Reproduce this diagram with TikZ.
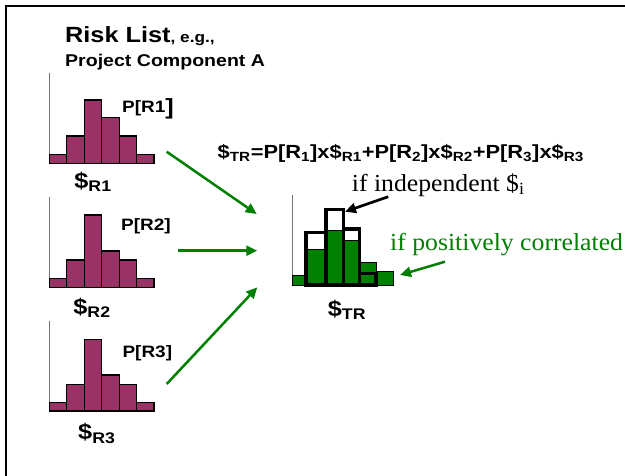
\documentclass[tikz,border=0pt]{standalone}
\usepackage{fontspec}
\setmainfont{Liberation Serif}
\newfontfamily\labelsans[FakeStretch=1.15]{Liberation Sans}
\newfontfamily\noteserif[FakeStretch=1.05]{Liberation Serif}
\usetikzlibrary{arrows.meta}
\definecolor{barmaroon}{HTML}{993366}
\definecolor{sumgreen}{HTML}{008000}
\newcommand{\fsz}[1]{\fontsize{#1}{#1}\selectfont}
\newcommand{\lo}[1]{\textsubscript{#1}}

% one risk histogram: left x, baseline y, axis top y, bar heights
\newcommand{\riskhist}[4]{%
  \draw[axisline] (#1,#3) -- (#1,#2);
  \foreach \h [count=\i from 0] in {#4}
    \draw[riskbar] ({#1+\i*17.45},#2) rectangle ++(17.45,-\h);
}

\tikzset{
  lbl/.style={inner sep=0pt, font=\labelsans\bfseries},
  note/.style={inner sep=0pt, font=\noteserif\fsz{24.5}},
  riskbar/.style={draw=black, line width=1.2pt, fill=barmaroon},
  sumbar/.style={draw=black, line width=0.7pt, fill=sumgreen},
  indepbox/.style={draw=black, line width=3.4pt},
  axisline/.style={draw=black!55, line width=0.9pt},
  flow/.style={draw=sumgreen, line width=2.5pt, -{Triangle[length=11pt,width=10pt]}},
  pointer/.style={draw=black, line width=2.7pt, -{Triangle[length=11pt,width=10pt]}},
}

\begin{document}
\begin{tikzpicture}[x=1pt,y=-1pt]
\useasboundingbox (0,0) rectangle (625,476);
\fill[white] (0,0) rectangle (625,476);

% slide frame (top and left edges)
\draw[line width=2.5pt] (6,476) -- (6,6) -- (625,6);

% heading
\node[lbl, anchor=base west] (title) at (65,43)
  {\fsz{22}Risk List\fsz{15}, e.g.,};
\node[lbl, anchor=base west] (component) at (65,67)
  {\fsz{17}Project Component A};

% three risk histograms
\riskhist{49.3}{163.3}{72.7}{9,27.3,63.3,45.6,27.3,9}
\riskhist{49.3}{287.3}{196.7}{9,27.3,72.3,36.3,27.3,9}
\riskhist{49.3}{411}{320.7}{8.7,26.7,71.7,36,26.7,8.7}

\node[lbl] (p1) at (148,109) {\fsz{16.5}P[R1\raisebox{-0.12em}{\fsz{22}]}};
\node[lbl] (p2) at (146,226.7) {\fsz{16.5}P[R2]};
\node[lbl] (p3) at (147.3,353.3) {\fsz{16.5}P[R3]};

\node[lbl] (c1) at (93,182) {\fsz{22}\$\lo{R1}};
\node[lbl] (c2) at (92,308) {\fsz{22}\$\lo{R2}};
\node[lbl] (c3) at (96.8,433.3) {\fsz{22}\$\lo{R3}};

% total-cost formula
\node[lbl] (formula) at (400.8,153.3)
  {\fsz{19}\$\lo{TR}=P[R\lo{1}]x\$\lo{R1}+P[R\lo{2}]x\$\lo{R2}+P[R\lo{3}]x\$\lo{R3}};

% combined histogram: positively correlated (green) and independent (outlined)
\draw[axisline] (292.7,195) -- (292.7,285);
\draw[sumbar] (292.7,285) rectangle (306,275.7);
\draw[sumbar] (306,285) rectangle (326,249);
\draw[sumbar] (326,285) rectangle (343.3,230);
\draw[sumbar] (343.3,285) rectangle (359.3,240);
\draw[sumbar] (359.3,285) rectangle (376,262.7);
\draw[sumbar] (376,285) rectangle (393.3,271.7);
\draw[indepbox] (306,285) rectangle (326,232.3);
\draw[indepbox] (326,285) rectangle (343.3,209.3);
\draw[indepbox] (343.3,285) rectangle (359.3,229);
\draw[indepbox] (359.3,285) rectangle (376,273.3);

\node[lbl] (ctr) at (347,310) {\fsz{22}\$\lo{TR}};

\node[note, anchor=west] (indep) at (351.7,185) {if independent \$\lo{i}};
\node[note, anchor=west, text=sumgreen] (corr) at (390,245) {if positively correlated};

% connectors
\coordinate (h1out) at (166.7,151.7);
\coordinate (h2out) at (178.3,250.7);
\coordinate (h3out) at (166.7,384);
\coordinate (in1) at (256.7,214);
\coordinate (in2) at (257.3,250.7);
\coordinate (in3) at (257.3,287.3);
\draw[flow] (h1out) -- (in1);
\draw[flow] (h2out) -- (in2);
\draw[flow] (h3out) -- (in3);

\coordinate (indeptail) at (388.3,196.7);
\coordinate (indeptip) at (345,211.7);
\draw[pointer] (indeptail) -- (indeptip);

\coordinate (corrtail) at (445,261.7);
\coordinate (corrtip) at (400,275);
\draw[flow] (corrtail) -- (corrtip);
\end{tikzpicture}
\end{document}
